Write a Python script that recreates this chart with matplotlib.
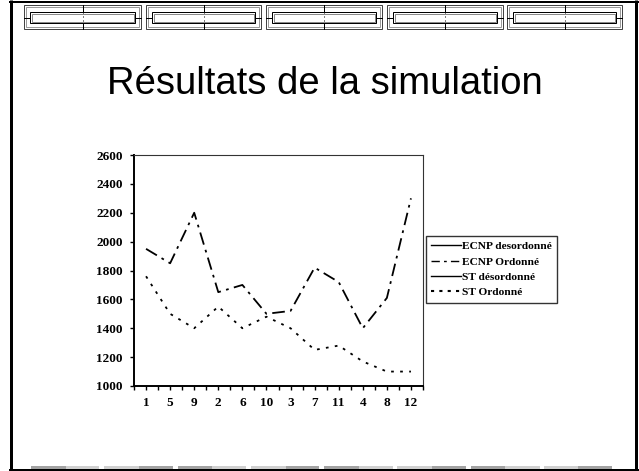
import matplotlib
matplotlib.use("Agg")
import matplotlib.pyplot as plt
from matplotlib.patches import Rectangle
from matplotlib.lines import Line2D
import numpy as np

# ---------------- data ----------------
categories = ["1", "5", "9", "2", "6", "10", "3", "7", "11", "4", "8", "12"]
ecnp_desordonne = []          # shown in legend only
ecnp_ordonne = [1950, 1850, 2200, 1650, 1700, 1500, 1520, 1820, 1720, 1400, 1610, 2300]
st_desordonne = []            # shown in legend only
st_ordonne = [1760, 1500, 1400, 1550, 1400, 1480, 1400, 1250, 1280, 1170, 1100, 1100]
series_labels = ["ECNP desordonné", "ECNP Ordonné", "ST désordonné", "ST Ordonné"]
y_ticks = [1000, 1200, 1400, 1600, 1800, 2000, 2200, 2400, 2600]
title = "Résultats de la simulation"

W, H = 639, 471
fig = plt.figure(figsize=(W / 100, H / 100), dpi=100)
fig.patch.set_facecolor("white")

# ---------------- slide decoration (pixel coordinates) ----------------
bg = fig.add_axes([0, 0, 1, 1], zorder=0)
bg.set_xlim(0, W)
bg.set_ylim(H, 0)
bg.axis("off")

px = 0.72  # points per pixel
# frame
bg.plot([11, 11], [0, 470], color="black", lw=3 * px, solid_capstyle="butt")
bg.plot([636, 636], [0, 470], color="black", lw=3 * px, solid_capstyle="butt")
bg.plot([10, 638], [1.5, 1.5], color="black", lw=2 * px)
bg.plot([10, 638], [469.5, 469.5], color="black", lw=2 * px)

# header boxes
boxes = [(24, 141), (146, 261), (266, 382), (387, 503), (507, 622)]
top, bot = 5, 29
itop, ibot = 12, 23
mid = (itop + ibot) / 2
for x0, x1 in boxes:
    bg.add_patch(Rectangle((x0, top), x1 - x0, bot - top, fill=False,
                           ec="#444444", lw=1 * px))
    bg.add_patch(Rectangle((x0 + 2, top + 2), x1 - x0 - 4, bot - top - 4, fill=False,
                           ec="#9a9a9a", lw=1 * px))
    ix0, ix1 = x0 + 6, x1 - 6
    bg.add_patch(Rectangle((ix0, itop), ix1 - ix0, ibot - itop, fill=False,
                           ec="black", lw=1 * px))
    bg.add_patch(Rectangle((ix0 + 1.5, itop + 1.5), ix1 - ix0 - 3, ibot - itop - 3,
                           fill=False, ec="#8a8a8a", lw=1 * px))
    bg.plot([x0, ix0], [mid, mid], color="black", lw=1 * px)
    bg.plot([ix1, x1], [mid, mid], color="black", lw=1 * px)
    xm = (x0 + x1) / 2
    bg.plot([xm, xm], [top, itop], color="black", lw=1 * px)
    bg.plot([xm, xm], [ibot, bot], color="black", lw=1 * px)
    bg.plot([xm, xm], [itop, ibot], color="black", lw=1 * px, ls=(0, (1, 3)))

# bottom bars
dark, light = "#a3a3a3", "#d0d0d0"
bars = [(31, 66, dark), (66, 99, light), (104, 139, light), (139, 173, dark),
        (178, 212, dark), (212, 246, light), (251, 286, light), (286, 319, dark),
        (324, 359, dark), (359, 393, light), (397, 432, light), (432, 466, dark),
        (471, 505, dark), (505, 540, light), (544, 578, light), (578, 612, dark)]
for a, b, c in bars:
    bg.add_patch(Rectangle((a, 466), b - a, 3, color=c, lw=0))

# title
bg.text(325, 94.5, title, ha="center", va="baseline",
        fontsize=27.5, family="Liberation Sans", color="black")

# ---------------- chart ----------------
ax_l, ax_r, ax_t, ax_b = 134, 423, 155, 386
ax = fig.add_axes([ax_l / W, 1 - ax_b / H, (ax_r - ax_l) / W, (ax_b - ax_t) / H], zorder=2)
ax.set_facecolor("none")

x = np.arange(len(categories)) + 0.5
ax.plot(x, ecnp_ordonne, color="black", lw=1.3, ls=(0, (7, 3, 1.5, 3)))
ax.plot(x, st_ordonne, color="black", lw=1.3, ls=(0, (1.5, 3.5)))

ax.set_xlim(0, len(categories))
ax.set_ylim(y_ticks[0], y_ticks[-1])
ax.set_yticks(y_ticks)
ax.set_yticklabels([str(v) for v in y_ticks])
ax.set_xticks(np.arange(0, len(categories) + 1))
ax.set_xticklabels([])
ax.set_xticks(x, minor=True)
ax.set_xticklabels(categories, minor=True)

tick_font = dict(family="Liberation Serif", weight="bold", size=9.5)
for lab in ax.get_yticklabels() + ax.get_xticklabels(minor=True):
    lab.set_fontproperties(tick_font)
ax.tick_params(axis="y", direction="out", length=3, width=1, pad=5)
ax.tick_params(axis="x", which="both", direction="out", length=3, width=1, pad=5)

for s in ["left", "bottom"]:
    ax.spines[s].set_linewidth(1.4)
    ax.spines[s].set_color("black")
for s in ["top", "right"]:
    ax.spines[s].set_linewidth(0.8)
    ax.spines[s].set_color("#333333")

handles = [
    Line2D([], [], color="black", lw=1.0, ls="-"),
    Line2D([], [], color="black", lw=1.0, ls=(0, (6, 3, 2, 3))),
    Line2D([], [], color="black", lw=1.0, ls="-"),
    Line2D([], [], color="black", lw=1.5, ls=(0, (1.5, 2.5))),
]
ax.plot(x[:len(ecnp_desordonne)], ecnp_desordonne, color="black", lw=1.0)
ax.plot(x[:len(st_desordonne)], st_desordonne, color="black", lw=1.0)

leg = fig.legend(handles, series_labels, loc="upper left",
                 bbox_to_anchor=(426 / W, 1 - 236 / H),
                 prop=dict(family="Liberation Serif", weight="bold", size=8.2),
                 frameon=True, fancybox=False, edgecolor="black",
                 handlelength=2.6, handletextpad=0.15, labelspacing=0.48,
                 borderpad=0.45, borderaxespad=0)
leg.get_frame().set_linewidth(1.0)

fig.savefig("out.png", dpi=100, facecolor="white")
